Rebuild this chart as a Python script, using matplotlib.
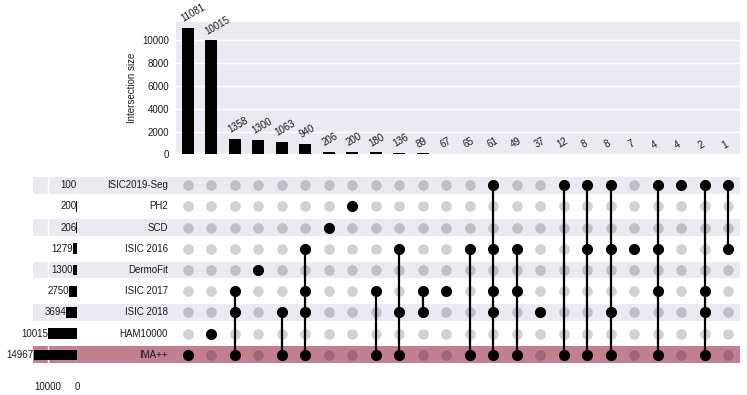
import matplotlib
matplotlib.use("Agg")
import matplotlib.pyplot as plt
import numpy as np

plt.rcParams['font.family'] = ['Liberation Sans', 'DejaVu Sans']

# ---- data ----
set_names = ["ISIC2019-Seg", "PH2", "SCD", "ISIC 2016", "DermoFit",
             "ISIC 2017", "ISIC 2018", "HAM10000", "IMA++"]
set_totals = [100, 200, 206, 1279, 1300, 2750, 3694, 10015, 14967]

intersection_sizes = [11081, 10015, 1358, 1300, 1063, 940, 206, 200, 180, 136,
                      89, 67, 65, 61, 49, 37, 12, 8, 8, 7, 4, 4, 2, 1]
intersection_members = [
    ["IMA++"],
    ["HAM10000"],
    ["ISIC 2017", "ISIC 2018", "IMA++"],
    ["DermoFit"],
    ["ISIC 2018", "IMA++"],
    ["ISIC 2016", "ISIC 2017", "ISIC 2018", "IMA++"],
    ["SCD"],
    ["PH2"],
    ["ISIC 2017", "IMA++"],
    ["ISIC 2016", "ISIC 2018", "IMA++"],
    ["ISIC 2017", "ISIC 2018"],
    ["ISIC 2017"],
    ["ISIC 2016", "IMA++"],
    ["ISIC2019-Seg", "ISIC 2016", "ISIC 2017", "ISIC 2018", "IMA++"],
    ["ISIC 2016", "ISIC 2017", "IMA++"],
    ["ISIC 2018"],
    ["ISIC2019-Seg", "IMA++"],
    ["ISIC2019-Seg", "ISIC 2016", "IMA++"],
    ["ISIC2019-Seg", "ISIC 2016", "ISIC 2018", "IMA++"],
    ["ISIC 2016"],
    ["ISIC2019-Seg", "ISIC 2016", "ISIC 2017", "IMA++"],
    ["ISIC2019-Seg"],
    ["ISIC2019-Seg", "ISIC 2017", "ISIC 2018", "IMA++"],
    ["ISIC2019-Seg", "ISIC 2016"],
]
highlight_set = "IMA++"

# ---- styling ----
W, H = 747, 395
TEXT = "#1a1a1a"
SHADE = "#EAEAF2"
ROSE = "#C18090"
FS = 7

fig = plt.figure(figsize=(W / 100, H / 100), dpi=100)


def rect(x0, y0, x1, y1):
    return [x0 / W, 1 - y1 / H, (x1 - x0) / W, (y1 - y0) / H]


n_rows = len(set_names)
n_cols = len(intersection_sizes)
mat_top, mat_bot = 174.4, 365.6
col_l, col_r = 176, 740

# background shading axes (pixel x coords)
ax_bg = fig.add_axes(rect(33, mat_top, 740, mat_bot))
ax_bg.set_xlim(33, 740)
ax_bg.set_ylim(n_rows - 0.5, -0.5)
ax_bg.axis("off")
for i, name in enumerate(set_names):
    if name == highlight_set:
        ax_bg.axhspan(i - 0.4, i + 0.4, color=ROSE, lw=0)
    elif i % 2 == 0:
        ax_bg.axhspan(i - 0.4, i + 0.4, color=SHADE, lw=0)
    ax_bg.text(168, i, name, ha="right", va="center", fontsize=FS, color=TEXT)

# totals axes
ax_tot = fig.add_axes(rect(33, mat_top, 77, mat_bot))
ax_tot.patch.set_alpha(0)
rows = np.arange(n_rows)
ax_tot.barh(rows, set_totals, height=0.5, color="black", zorder=3)
ax_tot.set_xlim(15170, 0)
ax_tot.set_ylim(n_rows - 0.5, -0.5)
for s in ax_tot.spines.values():
    s.set_visible(False)
ax_tot.set_yticks([])
ax_tot.set_xticks([10000, 0])
ax_tot.tick_params(axis="x", length=0, pad=12, labelsize=FS, labelcolor=TEXT)
ax_tot.grid(axis="x", color="white", lw=1, zorder=1)
ax_tot.set_axisbelow(True)
for i, v in enumerate(set_totals):
    ax_tot.text(v, i, str(v), ha="right", va="center", fontsize=FS,
                color=TEXT, clip_on=False)

# matrix axes
ax_mat = fig.add_axes(rect(col_l, mat_top, col_r, mat_bot))
ax_mat.patch.set_alpha(0)
ax_mat.set_xlim(-0.5, n_cols - 0.5)
ax_mat.set_ylim(n_rows - 0.5, -0.5)
ax_mat.axis("off")
xx, yy = np.meshgrid(np.arange(n_cols), rows)
ax_mat.scatter(xx.ravel(), yy.ravel(), s=58, color=(0, 0, 0, 0.18), lw=0, zorder=2)
for j, members in enumerate(intersection_members):
    idx = [set_names.index(m) for m in members]
    if len(idx) > 1:
        ax_mat.plot([j, j], [min(idx), max(idx)], color="black", lw=1.6, zorder=3)
    ax_mat.scatter([j] * len(idx), idx, s=64, color="black", lw=0, zorder=4)

# intersection bars
ax_bar = fig.add_axes(rect(col_l, 21.7, col_r, 154.3))
ax_bar.set_facecolor(SHADE)
cols = np.arange(n_cols)
ax_bar.bar(cols, intersection_sizes, width=0.5, color="black", zorder=3)
ax_bar.set_xlim(-0.5, n_cols - 0.5)
ax_bar.set_ylim(0, 11650)
ax_bar.set_yticks(np.arange(0, 10001, 2000))
ax_bar.set_xticks([])
for s in ax_bar.spines.values():
    s.set_visible(False)
ax_bar.grid(axis="y", color="white", lw=1, zorder=1)
ax_bar.set_axisbelow(True)
ax_bar.tick_params(axis="y", length=0, pad=5, labelsize=FS, labelcolor=TEXT)
ax_bar.set_ylabel("Intersection size", fontsize=FS, color=TEXT)
ax_bar.yaxis.set_label_coords((137 - col_l) / (col_r - col_l), 0.5)
for j, v in enumerate(intersection_sizes):
    ax_bar.annotate(str(v), (j, v), xytext=(-3, 4), textcoords="offset pixels",
                    ha="left", va="bottom", rotation=30, rotation_mode="anchor",
                    fontsize=7, color=TEXT, annotation_clip=False)

fig.savefig("out.png", dpi=100)
